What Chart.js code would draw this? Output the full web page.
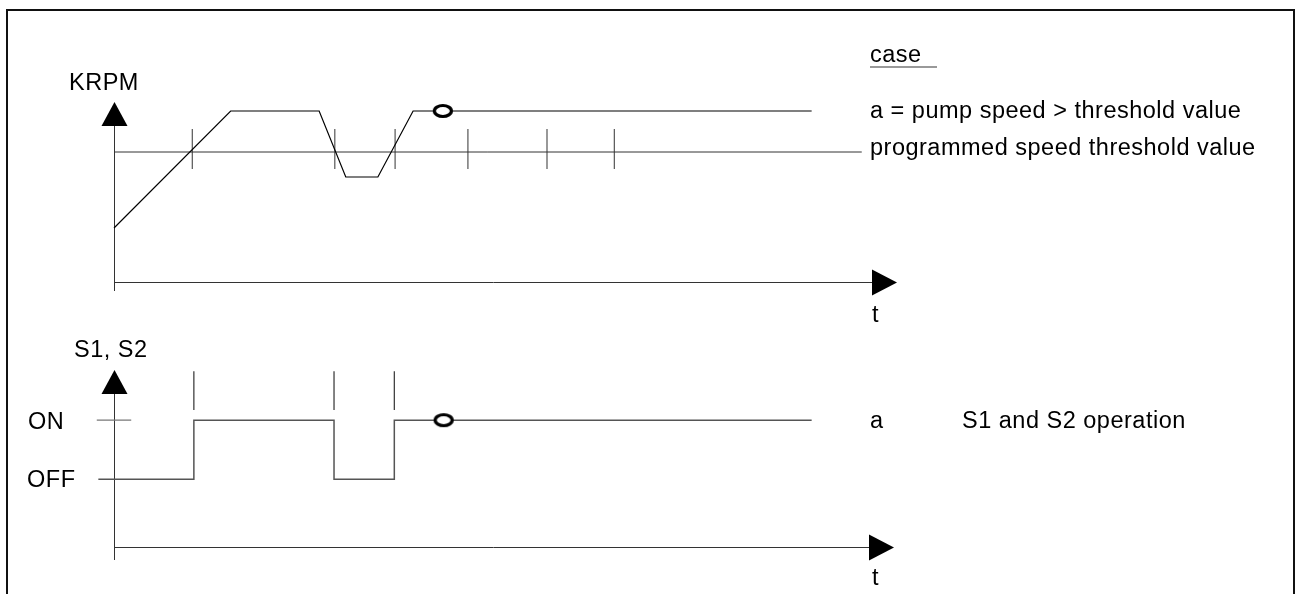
<!DOCTYPE html>
<html>
<head>
<meta charset="utf-8">
<script src="https://cdn.jsdelivr.net/npm/chart.js@4.4.0/dist/chart.umd.min.js"></script>
<style>
  html, body { margin: 0; padding: 0; background: #fff; overflow: hidden; }
  #frame { position: absolute; left: 6px; top: 9px; width: 1289px; height: 640px;
           border: 2px solid #111; border-bottom: none; box-sizing: border-box; }
  canvas { position: absolute; left: 0; }
  #speed { top: 0; }
  #switch { top: 330px; }
</style>
</head>
<body>
<div id="frame"></div>
<canvas id="speed" width="1297" height="330"></canvas>
<canvas id="switch" width="1297" height="264"></canvas>
<script>
// time in arbitrary units, 0 = origin of both diagrams
const speedTimes  = [0, 14.9, 26.2, 29.6, 33.7, 38.2, 89.1];
const speedKrpm   = [5.4, 17.1, 17.1, 10.5, 10.5, 17.1, 17.1];
const threshold   = 13;
const thresholdEnd = 95.5;
const speedMarks  = [10, 28.2, 35.9, 45.2, 55.3, 63.9];
const speedCircle = 42;

const stateTimes  = [-2, 10.2, 28.1, 35.8, 89.1];
const states      = [0, 1, 0, 1, 1];
const stateMarks  = [10.2, 28.1, 35.8];
const stateCircle = 42.1;
const stateLabels = ['OFF', 'ON'];

const FONT = '23.5px "Liberation Sans", Arial, sans-serif';

function ring() {
  const c = document.createElement('canvas');
  c.width = 24; c.height = 18;
  const g = c.getContext('2d');
  g.fillStyle = '#fff';
  g.strokeStyle = '#000';
  g.lineWidth = 3.2;
  g.beginPath();
  g.ellipse(12, 9, 8.5, 5.5, 0, 0, Math.PI * 2);
  g.fill();
  g.stroke();
  return c;
}

function marks(times, lo, hi) {
  const pts = [];
  times.forEach(t => pts.push({x: t, y: lo}, {x: t, y: hi}, {x: t, y: null}));
  return pts;
}

function zip(xs, ys) {
  return xs.map((x, i) => ({x: x, y: ys[i]}));
}

// arrows, axis lines and the texts
const diagram = {
  id: 'diagram',
  beforeDatasetsDraw(chart, args, o) {
    const ctx = chart.ctx, a = chart.chartArea;
    ctx.save();
    ctx.strokeStyle = '#333';
    ctx.lineWidth = 1;
    ctx.beginPath();
    ctx.moveTo(a.left + 0.5, a.top + 22);
    ctx.lineTo(a.left + 0.5, a.bottom + o.below);
    ctx.moveTo(a.left, a.bottom + 0.5);
    ctx.lineTo(a.right - 24, a.bottom + 0.5);
    ctx.stroke();
    ctx.fillStyle = '#000';
    ctx.beginPath();
    ctx.moveTo(a.left + 0.5, a.top);
    ctx.lineTo(a.left + 13.5, a.top + 24);
    ctx.lineTo(a.left - 12.5, a.top + 24);
    ctx.closePath();
    ctx.fill();
    ctx.beginPath();
    ctx.moveTo(o.tip, a.bottom + 0.5);
    ctx.lineTo(o.tip - 25, a.bottom - 12.5);
    ctx.lineTo(o.tip - 25, a.bottom + 13.5);
    ctx.closePath();
    ctx.fill();
    ctx.restore();
  },
  afterDraw(chart, args, o) {
    const ctx = chart.ctx;
    ctx.save();
    ctx.font = FONT;
    ctx.letterSpacing = '0.5px';
    ctx.fillStyle = '#000';
    ctx.textBaseline = 'alphabetic';
    o.texts.forEach(t => ctx.fillText(t[0], t[1], t[2] - o.top));
    (o.underlines || []).forEach(u => {
      ctx.strokeStyle = '#777';
      ctx.lineWidth = 1.5;
      ctx.beginPath();
      ctx.moveTo(u[0], u[2] - o.top);
      ctx.lineTo(u[1], u[2] - o.top);
      ctx.stroke();
    });
    ctx.restore();
  }
};

const base = {
  responsive: false,
  animation: false,
  events: [],
  plugins: { legend: { display: false }, tooltip: { enabled: false } }
};

new Chart(document.getElementById('speed'), {
  type: 'line',
  data: {
    datasets: [
      { data: [{x: speedCircle, y: speedKrpm[speedKrpm.length - 1]}], pointStyle: ring(),
        pointRadius: 10, showLine: false, clip: false },
      { data: zip(speedTimes, speedKrpm), borderColor: '#000', borderWidth: 1.2,
        pointRadius: 0, clip: false },
      { data: [{x: 0, y: threshold}, {x: thresholdEnd, y: threshold}], borderColor: '#333',
        borderWidth: 1, pointRadius: 0, clip: false },
      { data: marks(speedMarks, threshold - 1.7, threshold + 2.3), borderColor: '#555',
        borderWidth: 1.2, pointRadius: 0, spanGaps: false, clip: false }
    ]
  },
  options: Object.assign({}, base, {
    layout: { padding: { left: 114, right: 400, top: 102, bottom: 48 } },
    scales: {
      x: { type: 'linear', min: 0, max: 100, display: false },
      y: { min: 0, max: 18, display: false }
    },
    plugins: Object.assign({}, base.plugins, {
      diagram: {
        below: 9, tip: 897, top: 0,
        texts: [
          ['KRPM', 69, 90],
          ['case', 870, 62],
          ['a = pump speed > threshold value', 870, 118],
          ['programmed speed threshold value', 870, 155],
          ['t', 872, 322]
        ],
        underlines: [[870, 937, 67]]
      }
    })
  }),
  plugins: [diagram]
});

new Chart(document.getElementById('switch'), {
  type: 'line',
  data: {
    datasets: [
      { data: [{x: stateCircle, y: 1}], pointStyle: ring(), pointRadius: 10,
        showLine: false, clip: false },
      { data: zip(stateTimes, states), stepped: true, borderColor: '#555', borderWidth: 1.5,
        pointRadius: 0, clip: false },
      { data: [{x: -2.2, y: 1}, {x: 2.2, y: 1}], borderColor: '#777', borderWidth: 1.2,
        pointRadius: 0, clip: false },
      { data: marks(stateMarks, 1.17, 1.83), borderColor: '#333', borderWidth: 1.2,
        pointRadius: 0, spanGaps: false, clip: false }
    ]
  },
  options: Object.assign({}, base, {
    layout: { padding: { left: 114, right: 400, top: 40, bottom: 47 } },
    scales: {
      x: { type: 'linear', min: 0, max: 100, display: false },
      y: { min: -1.15, max: 1.85, display: false }
    },
    plugins: Object.assign({}, base.plugins, {
      diagram: {
        below: 13, tip: 894, top: 330,
        texts: [
          ['S1, S2', 74, 357],
          [stateLabels[1], 28, 429],
          [stateLabels[0], 27, 487],
          ['a', 870, 428],
          ['S1 and S2 operation', 962, 428],
          ['t', 872, 585]
        ]
      }
    })
  }),
  plugins: [diagram]
});
</script>
</body>
</html>
